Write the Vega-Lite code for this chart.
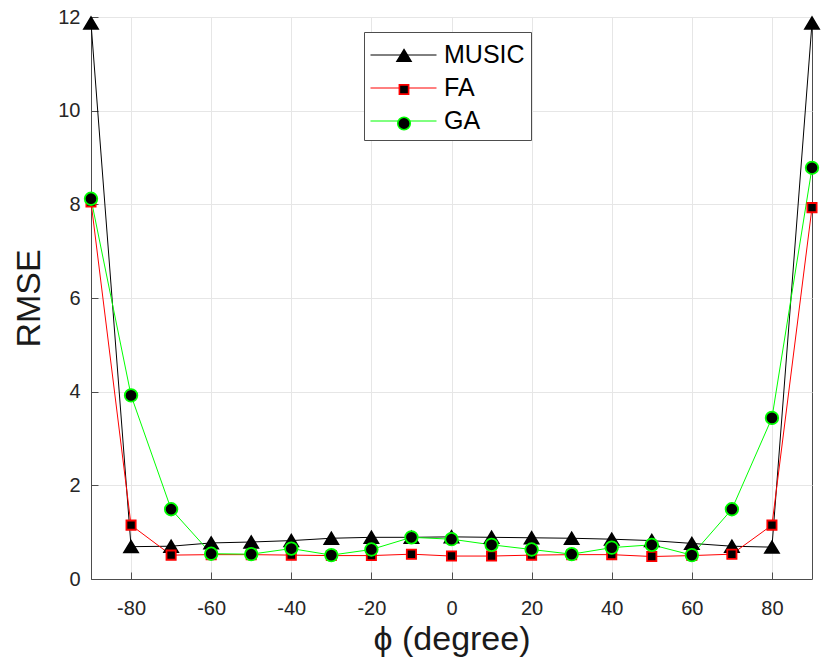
{
  "$schema": "https://vega.github.io/schema/vega-lite/v6.json",
  "width": 721,
  "height": 562,
  "autosize": {"type": "none"},
  "padding": {"left": 91, "top": 17, "right": 9, "bottom": 84},
  "background": "white",
  "config": {
    "view": {"stroke": "#4d4d4d", "strokeWidth": 1},
    "font": "Liberation Sans",
    "axis": {
      "labelFont": "Liberation Sans",
      "labelFontSize": 20,
      "labelColor": "#262626",
      "titleFont": "Liberation Sans",
      "titleFontSize": 34,
      "titleFontWeight": "normal",
      "titleColor": "#1a1a1a",
      "domainColor": "#4d4d4d",
      "domainWidth": 1,
      "tickColor": "#4d4d4d",
      "tickWidth": 1,
      "gridColor": "#e6e6e6",
      "gridWidth": 1
    }
  },
  "data": {
    "values": [
      {"series": "MUSIC", "phi": -90, "rmse": 11.87},
      {"series": "MUSIC", "phi": -80, "rmse": 0.69},
      {"series": "MUSIC", "phi": -70, "rmse": 0.70},
      {"series": "MUSIC", "phi": -60, "rmse": 0.77},
      {"series": "MUSIC", "phi": -50, "rmse": 0.79},
      {"series": "MUSIC", "phi": -40, "rmse": 0.82},
      {"series": "MUSIC", "phi": -30, "rmse": 0.87},
      {"series": "MUSIC", "phi": -20, "rmse": 0.89},
      {"series": "MUSIC", "phi": -10, "rmse": 0.89},
      {"series": "MUSIC", "phi": 0, "rmse": 0.90},
      {"series": "MUSIC", "phi": 10, "rmse": 0.89},
      {"series": "MUSIC", "phi": 20, "rmse": 0.88},
      {"series": "MUSIC", "phi": 30, "rmse": 0.87},
      {"series": "MUSIC", "phi": 40, "rmse": 0.85},
      {"series": "MUSIC", "phi": 50, "rmse": 0.82},
      {"series": "MUSIC", "phi": 60, "rmse": 0.76},
      {"series": "MUSIC", "phi": 70, "rmse": 0.70},
      {"series": "MUSIC", "phi": 80, "rmse": 0.68},
      {"series": "MUSIC", "phi": 90, "rmse": 11.87},
      {"series": "FA", "phi": -90, "rmse": 8.05},
      {"series": "FA", "phi": -80, "rmse": 1.15},
      {"series": "FA", "phi": -70, "rmse": 0.51},
      {"series": "FA", "phi": -60, "rmse": 0.52},
      {"series": "FA", "phi": -50, "rmse": 0.52},
      {"series": "FA", "phi": -40, "rmse": 0.51},
      {"series": "FA", "phi": -30, "rmse": 0.50},
      {"series": "FA", "phi": -20, "rmse": 0.50},
      {"series": "FA", "phi": -10, "rmse": 0.53},
      {"series": "FA", "phi": 0, "rmse": 0.49},
      {"series": "FA", "phi": 10, "rmse": 0.49},
      {"series": "FA", "phi": 20, "rmse": 0.51},
      {"series": "FA", "phi": 30, "rmse": 0.52},
      {"series": "FA", "phi": 40, "rmse": 0.52},
      {"series": "FA", "phi": 50, "rmse": 0.48},
      {"series": "FA", "phi": 60, "rmse": 0.50},
      {"series": "FA", "phi": 70, "rmse": 0.53},
      {"series": "FA", "phi": 80, "rmse": 1.15},
      {"series": "FA", "phi": 90, "rmse": 7.93},
      {"series": "GA", "phi": -90, "rmse": 8.12},
      {"series": "GA", "phi": -80, "rmse": 3.92},
      {"series": "GA", "phi": -70, "rmse": 1.49},
      {"series": "GA", "phi": -60, "rmse": 0.54},
      {"series": "GA", "phi": -50, "rmse": 0.53},
      {"series": "GA", "phi": -40, "rmse": 0.65},
      {"series": "GA", "phi": -30, "rmse": 0.51},
      {"series": "GA", "phi": -20, "rmse": 0.63},
      {"series": "GA", "phi": -10, "rmse": 0.89},
      {"series": "GA", "phi": 0, "rmse": 0.85},
      {"series": "GA", "phi": 10, "rmse": 0.73},
      {"series": "GA", "phi": 20, "rmse": 0.63},
      {"series": "GA", "phi": 30, "rmse": 0.53},
      {"series": "GA", "phi": 40, "rmse": 0.67},
      {"series": "GA", "phi": 50, "rmse": 0.73},
      {"series": "GA", "phi": 60, "rmse": 0.51},
      {"series": "GA", "phi": 70, "rmse": 1.49},
      {"series": "GA", "phi": 80, "rmse": 3.44},
      {"series": "GA", "phi": 90, "rmse": 8.78}
    ]
  },
  "layer": [
    {
      "mark": {"type": "line", "strokeWidth": 1},
      "encoding": {
        "x": {
          "field": "phi", "type": "quantitative",
          "scale": {"domain": [-90, 90], "nice": false, "zero": false},
          "axis": {
            "orient": "bottom",
            "values": [-80, -60, -40, -20, 0, 20, 40, 60, 80],
            "labelExpr": "'' + datum.value",
            "grid": true,
            "tickSize": -7,
            "labelPadding": 26,
            "title": "ϕ (degree)",
            "titlePadding": 4
          }
        },
        "y": {
          "field": "rmse", "type": "quantitative",
          "scale": {"domain": [0, 12], "nice": false, "zero": false},
          "axis": {
            "orient": "left",
            "values": [0, 2, 4, 6, 8, 10, 12],
            "labelExpr": "'' + datum.value",
            "grid": true,
            "tickSize": -7,
            "labelPadding": 18,
            "title": "RMSE",
            "titlePadding": 11
          }
        },
        "stroke": {
          "field": "series", "type": "nominal",
          "sort": ["MUSIC", "FA", "GA"],
          "scale": {"range": ["#000000", "#ff0000", "#00ff00"]},
          "legend": {
            "orient": "none",
            "legendX": 273,
            "legendY": 15,
            "title": null,
            "symbolType": "M-1,0H3",
            "symbolSize": 1089,
            "symbolStrokeWidth": 1,
            "labelFont": "Liberation Sans",
            "labelFontSize": 25,
            "labelColor": "#000000",
            "labelOffset": 40,
            "padding": 6,
            "rowPadding": 3,
            "strokeColor": "#4d4d4d",
            "fillColor": "#ffffff"
          }
        }
      }
    },
    {
      "mark": {"type": "point", "filled": false, "fill": "#000000", "strokeWidth": 1.8, "opacity": 1, "size": 1089},
      "encoding": {
        "x": {"field": "phi", "type": "quantitative"},
        "y": {"field": "rmse", "type": "quantitative"},
        "color": {
          "field": "series", "type": "nominal",
          "scale": {"domain": ["MUSIC", "FA", "GA"], "range": ["#000000", "#ff0000", "#00ff00"]},
          "legend": {
            "orient": "none",
            "legendX": 289.5,
            "legendY": 15,
            "title": null,
            "symbolSize": 1089,
            "symbolStrokeWidth": 1.6,
            "symbolFillColor": "#000000",
            "labelFont": "Liberation Sans",
            "labelFontSize": 25,
            "labelExpr": "''",
            "labelOffset": 40,
            "padding": 6,
            "rowPadding": 3
          }
        },
        "shape": {
          "field": "series", "type": "nominal",
          "scale": {
            "domain": ["MUSIC", "FA", "GA"],
            "range": [
              "M0,-0.35L0.42,0.35L-0.42,0.35Z",
              "M-0.28,-0.28H0.28V0.28H-0.28Z",
              "M0.38,0A0.38,0.38 0 1,1 -0.38,0A0.38,0.38 0 1,1 0.38,0Z"
            ]
          },
          "legend": null
        }
      }
    }
  ]
}
